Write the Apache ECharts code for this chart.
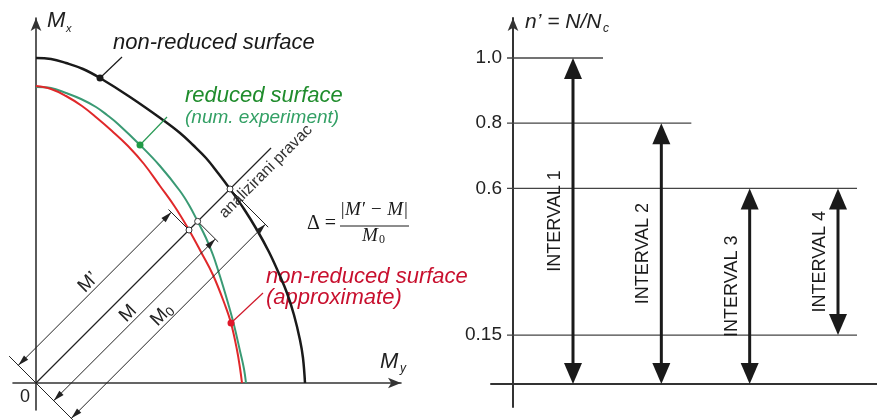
<!DOCTYPE html>
<html>
<head>
<meta charset="utf-8">
<script src="https://cdn.jsdelivr.net/npm/echarts@6/dist/echarts.min.js"></script>
<style>
html,body{margin:0;padding:0;background:#fff;}
#c{width:877px;height:420px;}
</style>
</head>
<body>
<div id="c"></div>
<script>
// ---------------- data ----------------
// Left panel: interaction surfaces, My (horizontal) vs Mx (vertical)
const blackMy = [0, 15, 30, 47, 64, 94, 127, 144, 157, 170, 182, 194, 208, 221, 233, 244, 251, 258, 264, 267, 269];
const blackMx = [325, 324, 320, 314, 305, 286, 263, 250, 238, 225, 210, 194, 174, 153, 131, 107, 90, 68, 43, 25, 0];
const greenMy = [0, 15, 30, 45, 60, 71, 82, 104, 124, 144, 153, 162, 170, 177, 182, 187, 192, 198, 204, 208, 210];
const greenMx = [296, 295, 290, 284, 276, 268, 259, 238, 217, 192, 178, 161, 145, 128, 113, 97, 80, 58, 32, 14, 0];
const redMy = [0, 15, 30, 46, 61, 76, 92, 108, 124, 139, 153, 165, 177, 189, 195, 201, 204, 206];
const redMx = [297, 294, 287, 277, 265, 252, 237, 219, 197, 176, 153, 131, 108, 78, 60, 33, 15, 0];
const blackMarkIdx = 4;
const greenMarkIdx = 7;
const redMarkIdx = 14;

// Right panel: axial force intervals n' = N/Nc
const intervalNames = ['INTERVAL 1', 'INTERVAL 2', 'INTERVAL 3', 'INTERVAL 4'];
const intervalLow = [0, 0, 0, 0.15];
const intervalHigh = [1.0, 0.8, 0.6, 0.6];
const levelTicks = [1.0, 0.8, 0.6, 0.15];

// ---------------- helpers ----------------
const zip = (xs, ys) => xs.map((x, i) => [x, ys[i]]);
function diagHit(xs, ys) {
  for (let i = 0; i < xs.length - 1; i++) {
    const f0 = ys[i] - xs[i], f1 = ys[i + 1] - xs[i + 1];
    if (f0 >= 0 && f1 <= 0) {
      const t = f0 / (f0 - f1);
      return [xs[i] + t * (xs[i + 1] - xs[i]), ys[i] + t * (ys[i + 1] - ys[i])];
    }
  }
  return [0, 0];
}
const blackHit = diagHit(blackMy, blackMx);
const greenHit = diagHit(greenMy, greenMx);
const redHit = diagHit(redMy, redMx);

const S = Math.SQRT1_2;
const U = [S, -S];     // along analysed direction (pixel space)
const N = [-S, -S];    // perpendicular, towards upper-left
const mv = (p, v, k) => [p[0] + v[0] * k, p[1] + v[1] * k];
const SANS = '"Liberation Sans", Arial, sans-serif';
const SERIF = '"Liberation Serif", "Times New Roman", serif';
const INK = '#1a1a1a';

function line(a, b, color, w) {
  return {type: 'line', shape: {x1: a[0], y1: a[1], x2: b[0], y2: b[1]}, style: {stroke: color, lineWidth: w}};
}
function head(tip, dir, len, wid, color) {
  const base = mv(tip, dir, -len);
  const p = [-dir[1], dir[0]];
  return {type: 'polygon', shape: {points: [tip, mv(base, p, wid / 2), mv(base, p, -wid / 2)]}, style: {fill: color}};
}
function txt(x, y, text, font, fill, rot, align, valign) {
  return {type: 'text', x: x, y: y, rotation: rot || 0,
    style: {text: text, font: font, fill: fill, align: align || 'center', verticalAlign: valign || 'middle',
            textAlign: align || 'center', textVerticalAlign: valign || 'middle'}};
}

// level line extends past the last interval that touches it
const lastTouch = levelTicks.map(l => {
  let k = -1;
  intervalNames.forEach((n, i) => { if (intervalHigh[i] === l || intervalLow[i] === l) k = i; });
  return k;
});

// ---------------- chart ----------------
const chart = echarts.init(document.getElementById('c'));
const RIGHT_AXIS_OFFSET = 22;

const option = {
  animation: false,
  backgroundColor: '#fff',
  grid: [
    {left: 13, top: 18, width: 388, height: 392},
    {left: 491, right: 0, top: 18, bottom: 13}
  ],
  xAxis: [
    {gridIndex: 0, type: 'value', min: -23, max: 365,
      axisLine: {onZero: true, symbol: ['none', 'arrow'], symbolSize: [8, 13], lineStyle: {color: '#333', width: 1.6}},
      axisTick: {show: false}, axisLabel: {show: false}, splitLine: {show: false}},
    {gridIndex: 1, type: 'value', min: 0.0717, max: 4.4415,
      axisLine: {onZero: true, lineStyle: {color: '#333', width: 2}},
      axisTick: {show: false}, axisLabel: {show: false}, splitLine: {show: false}}
  ],
  yAxis: [
    {gridIndex: 0, type: 'value', min: -27, max: 365,
      axisLine: {onZero: true, symbol: ['none', 'arrow'], symbolSize: [8, 13], lineStyle: {color: '#333', width: 1.6}},
      axisTick: {show: false}, axisLabel: {show: false}, splitLine: {show: false}},
    {gridIndex: 1, type: 'value', min: -0.07055, max: 1.1227, position: 'left', offset: -RIGHT_AXIS_OFFSET,
      axisLine: {onZero: false, symbol: ['none', 'arrow'], symbolSize: [8, 13], lineStyle: {color: '#333', width: 2}},
      axisTick: {show: false},
      axisLabel: {show: true, customValues: levelTicks, margin: 11, fontSize: 19, fontFamily: SANS, color: '#222',
        formatter: v => (Math.round(v * 100) % 10 === 0 ? v.toFixed(1) : String(v))},
      splitLine: {show: false}}
  ],
  graphic: [
    txt(47, 21, 'M', 'italic 22px ' + SANS, '#222', 0, 'left'),
    txt(66, 29, 'x', 'italic 11px ' + SANS, '#222', 0, 'left'),
    txt(380, 362, 'M', 'italic 22px ' + SANS, '#222', 0, 'left'),
    txt(400, 369, 'y', 'italic 12px ' + SANS, '#222', 0, 'left'),
    txt(25, 397, '0', '18px ' + SANS, '#222'),
    txt(113, 43, 'non-reduced surface', 'italic 22px ' + SANS, INK, 0, 'left'),
    txt(185, 96, 'reduced surface', 'italic 22px ' + SANS, '#1f8c2c', 0, 'left'),
    txt(185, 118, '(num. experiment)', 'italic 19px ' + SANS, '#33a065', 0, 'left'),
    txt(266, 277, 'non-reduced surface', 'italic 22px ' + SANS, '#c8102e', 0, 'left'),
    txt(266, 298, '(approximate)', 'italic 22px ' + SANS, '#c8102e', 0, 'left'),
    txt(307, 224, 'Δ =', '20px ' + SERIF, INK, 0, 'left'),
    txt(374, 210, '|M′ − M|', 'italic 19px ' + SERIF, INK),
    {type: 'line', shape: {x1: 340, y1: 226, x2: 409, y2: 226}, style: {stroke: INK, lineWidth: 1}},
    txt(370, 236, 'M', 'italic 19px ' + SERIF, INK),
    txt(379, 240, '0', '12px ' + SERIF, INK, 0, 'left'),
    txt(525, 22, 'n’ = N/N', 'italic 21px ' + SANS, '#222', 0, 'left'),
    txt(603, 29, 'c', 'italic 12px ' + SANS, '#222', 0, 'left')
  ],
  series: [
    {type: 'line', name: 'non-reduced surface', xAxisIndex: 0, yAxisIndex: 0, data: zip(blackMy, blackMx),
      smooth: 0.4, showSymbol: false, lineStyle: {color: INK, width: 2.5}, z: 2},
    {type: 'line', name: 'reduced surface (num. experiment)', xAxisIndex: 0, yAxisIndex: 0, data: zip(greenMy, greenMx),
      smooth: 0.4, showSymbol: false, lineStyle: {color: '#3a9a74', width: 2}, z: 2},
    {type: 'line', name: 'non-reduced surface (approximate)', xAxisIndex: 0, yAxisIndex: 0, data: zip(redMy, redMx),
      smooth: 0.4, showSymbol: false, lineStyle: {color: '#e0282a', width: 2}, z: 2},
    // analysed direction, dimension lines and markers
    {type: 'custom', xAxisIndex: 0, yAxisIndex: 0, data: [[0, 0]], z: 3, silent: true,
      renderItem: function (params, api) {
        const O = api.coord([0, 0]);
        const R = api.coord(redHit), G = api.coord(greenHit), B = api.coord(blackHit);
        const c = [];
        const dimC = '#222';
        // analysed direction
        c.push(line(O, mv(B, U, 58), dimC, 1.3));
        // perpendicular reference at origin
        c.push(line(mv(O, N, 38), mv(O, N, -52), dimC, 1));
        // M' (red)
        c.push(line(R, mv(R, N, 29), dimC, 1));
        const a1 = mv(O, N, 25), b1 = mv(R, N, 25);
        c.push(line(a1, b1, dimC, 1));
        c.push(head(a1, [-U[0], -U[1]], 11, 6, dimC), head(b1, U, 11, 6, dimC));
        // M (green)
        c.push(line(G, mv(G, N, -29), dimC, 1));
        const a2 = mv(O, N, -25), b2 = mv(G, N, -25);
        c.push(line(a2, b2, dimC, 1));
        c.push(head(a2, [-U[0], -U[1]], 11, 6, dimC), head(b2, U, 11, 6, dimC));
        // M0 (black)
        c.push(line(B, mv(B, N, -54), dimC, 1));
        const a3 = mv(O, N, -50), b3 = mv(B, N, -50);
        c.push(line(a3, b3, dimC, 1));
        c.push(head(a3, [-U[0], -U[1]], 11, 6, dimC), head(b3, U, 11, 6, dimC));
        // labels of dimensions
        const midR = mv(mv(O, U, Math.hypot(R[0] - O[0], R[1] - O[1]) / 2), N, 34);
        const midG = mv(mv(O, U, Math.hypot(G[0] - O[0], G[1] - O[1]) / 2), N, -16);
        const midB = mv(mv(O, U, Math.hypot(B[0] - O[0], B[1] - O[1]) / 2), N, -41);
        c.push(txt(midR[0], midR[1], 'M’', '19px ' + SANS, dimC, Math.PI / 4));
        c.push(txt(midG[0], midG[1], 'M', '19px ' + SANS, dimC, Math.PI / 4));
        c.push({type: 'text', x: midB[0], y: midB[1], rotation: Math.PI / 4,
          style: {text: '{a|M}{b|0}', fill: dimC, align: 'center', verticalAlign: 'middle',
            textAlign: 'center', textVerticalAlign: 'middle',
            rich: {a: {font: '19px ' + SANS, fill: dimC}, b: {font: '13px ' + SANS, fill: dimC, padding: [8, 0, 0, 0]}}}});
        const tp = mv(mv(O, U, 312), N, -13);
        c.push(txt(tp[0], tp[1], 'analizirani pravac', '16px ' + SANS, '#333', Math.PI / 4));
        // intersection circles
        [R, G, B].forEach(p => c.push({type: 'circle', shape: {cx: p[0], cy: p[1], r: 3},
          style: {fill: '#fff', stroke: '#333', lineWidth: 1}}));
        // curve markers with leaders
        const pb = api.coord([blackMy[blackMarkIdx], blackMx[blackMarkIdx]]);
        const pg = api.coord([greenMy[greenMarkIdx], greenMx[greenMarkIdx]]);
        const pr = api.coord([redMy[redMarkIdx], redMx[redMarkIdx]]);
        c.push(line(pb, [pb[0] + 22, pb[1] - 21], INK, 1.2));
        c.push(line(pg, [pg[0] + 27, pg[1] - 28], '#2a9a55', 1.2));
        c.push(line(pr, [pr[0] + 32, pr[1] - 30], '#d0182a', 1.2));
        c.push({type: 'circle', shape: {cx: pb[0], cy: pb[1], r: 3.5}, style: {fill: INK}});
        c.push({type: 'circle', shape: {cx: pg[0], cy: pg[1], r: 3.5}, style: {fill: '#1f9a45'}});
        c.push({type: 'circle', shape: {cx: pr[0], cy: pr[1], r: 3.5}, style: {fill: '#e0182a'}});
        return {type: 'group', children: c};
      }},
    // level lines (right panel)
    {type: 'custom', xAxisIndex: 1, yAxisIndex: 1, z: 2, silent: true,
      data: levelTicks.map((l, i) => [lastTouch[i] + 1, l]),
      renderItem: function (params, api) {
        const idx = api.value(0), lvl = api.value(1);
        const axisX = api.coord([0.0717, lvl])[0] + RIGHT_AXIS_OFFSET;
        const p = api.coord([idx, lvl]);
        const over = idx === intervalNames.length ? 19 : 30;
        return line([axisX - 6, p[1]], [p[0] + over, p[1]], '#444', 1.3);
      }},
    // interval arrows (right panel)
    {type: 'custom', xAxisIndex: 1, yAxisIndex: 1, z: 3, silent: true,
      data: intervalNames.map((n, i) => [i + 1, intervalLow[i], intervalHigh[i]]),
      renderItem: function (params, api) {
        const i = api.value(0);
        const lo = api.coord([i, api.value(1)]);
        const hi = api.coord([i, api.value(2)]);
        const L = 21, W = 18;
        const c = [];
        c.push(line([lo[0], lo[1] - L + 2], [hi[0], hi[1] + L - 2], INK, 3));
        c.push(head(hi, [0, -1], L, W, INK));
        c.push(head(lo, [0, 1], L, W, INK));
        c.push(txt(lo[0] - 18, (lo[1] + hi[1]) / 2, intervalNames[params.dataIndex], '18px ' + SANS, INK, Math.PI / 2));
        return {type: 'group', children: c};
      }}
  ]
};
chart.setOption(option);
</script>
</body>
</html>
